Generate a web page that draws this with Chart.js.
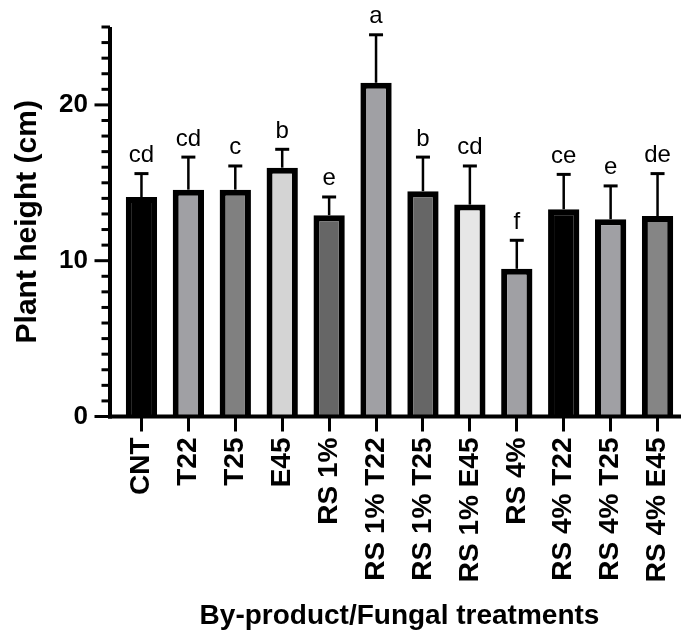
<!DOCTYPE html>
<html>
<head>
<meta charset="utf-8">
<script src="https://cdn.jsdelivr.net/npm/chart.js@4.4.1/dist/chart.umd.min.js"></script>
<style>
  html, body { margin: 0; padding: 0; background: #ffffff; }
  #wrap { width: 681px; height: 635px; position: relative; }
</style>
</head>
<body>
<div id="wrap"><canvas id="c" width="681" height="635"></canvas></div>
<script>
// ---- data ----
const categories = ['CNT', 'T22', 'T25', 'E45', 'RS 1%', 'RS 1% T22', 'RS 1% T25', 'RS 1% E45', 'RS 4%', 'RS 4% T22', 'RS 4% T25', 'RS 4% E45'];
const heights = [14.09, 14.56, 14.56, 15.97, 12.92, 21.42, 14.46, 13.60, 9.48, 13.30, 12.66, 12.87];
const errors = [1.50, 2.09, 1.52, 1.18, 1.17, 3.08, 2.19, 2.48, 1.83, 2.24, 2.14, 2.72];
const letters = ['cd', 'cd', 'c', 'b', 'e', 'a', 'b', 'cd', 'f', 'ce', 'e', 'de'];
const yMin = 0;
const yMax = 25;
const yMajorTicks = [0, 10, 20];

// ---- styles ----
const fills = ['#000000', '#a0a0a4', '#808080', '#d4d4d4', '#666666', '#a0a0a4', '#666666', '#e6e6e6', '#a0a0a4', '#000000', '#a0a0a4', '#858585'];
const FONT = "'Liberation Sans', Arial, Helvetica, sans-serif";

const overlay = {
  id: 'overlay',
  afterDatasetsDraw(chart) {
    const ctx = chart.ctx;
    const ys = chart.scales.y;
    const meta = chart.getDatasetMeta(0);
    ctx.save();
    ctx.strokeStyle = '#000';
    ctx.fillStyle = '#000';
    // error bars + letters
    meta.data.forEach((bar, i) => {
      const x = bar.x;
      const yTop = ys.getPixelForValue(heights[i]);
      const yErr = ys.getPixelForValue(heights[i] + errors[i]);
      ctx.lineWidth = 2.5;
      ctx.beginPath();
      ctx.moveTo(x, yTop);
      ctx.lineTo(x, yErr);
      ctx.stroke();
      ctx.lineWidth = 3;
      ctx.beginPath();
      ctx.moveTo(x - 7, yErr);
      ctx.lineTo(x + 7, yErr);
      ctx.stroke();
      ctx.font = '24px ' + FONT;
      ctx.textAlign = 'center';
      ctx.textBaseline = 'alphabetic';
      ctx.fillText(letters[i], x, yErr - 11.5);
    });
    // axes lines
    const axisX = chart.chartArea.left - 8;
    const y0 = ys.getPixelForValue(yMin);
    const yT = ys.getPixelForValue(yMax);
    ctx.lineWidth = 4;
    ctx.beginPath();
    ctx.moveTo(axisX, yT);
    ctx.lineTo(axisX, y0 + 2);
    ctx.stroke();
    ctx.beginPath();
    ctx.moveTo(axisX - 2, y0);
    ctx.lineTo(chart.chartArea.right, y0);
    ctx.stroke();
    // y ticks (major/minor)
    ctx.lineWidth = 3;
    ys.ticks.forEach(t => {
      const py = ys.getPixelForValue(t.value);
      const major = yMajorTicks.includes(t.value);
      ctx.beginPath();
      ctx.moveTo(axisX - (major ? 15.5 : 8.5), py);
      ctx.lineTo(axisX, py);
      ctx.stroke();
    });
    ctx.restore();
  }
};

new Chart(document.getElementById('c'), {
  type: 'bar',
  data: {
    labels: categories,
    datasets: [{
      data: heights,
      backgroundColor: fills,
      borderColor: '#000000',
      borderWidth: 6,
      categoryPercentage: 1.0,
      barPercentage: 0.667
    }]
  },
  options: {
    responsive: false,
    animation: false,
    devicePixelRatio: 1,
    layout: { padding: { top: 27, left: 0, right: 0, bottom: 0 } },
    plugins: { legend: { display: false }, tooltip: { enabled: false } },
    scales: {
      x: {
        offset: true,
        grid: { display: true, drawOnChartArea: false, drawTicks: true, tickLength: 15, tickWidth: 3, tickColor: '#000', offset: false },
        border: { display: false },
        ticks: {
          autoSkip: false, maxRotation: 90, minRotation: 90, padding: 6,
          color: '#000', font: { family: FONT, size: 28, weight: 'bold' }
        },
        title: {
          display: true, text: 'By-product/Fungal treatments', color: '#000',
          font: { family: FONT, size: 28, weight: 'bold' }, padding: { top: 0, bottom: 2 }
        },
        afterFit(scale) { scale.height = 635 - 416.5; scale.paddingLeft = 0; scale.paddingRight = 0; }
      },
      y: {
        min: yMin, max: yMax,
        grid: { display: false, drawTicks: false },
        border: { display: false },
        ticks: {
          stepSize: 1, autoSkip: false, padding: 30, color: '#000',
          font: { family: FONT, size: 26, weight: 'bold' },
          callback: (v) => (yMajorTicks.includes(v) ? String(v) : '')
        },
        title: {
          display: true, text: 'Plant height (cm)', color: '#000',
          font: { family: FONT, size: 30, weight: 'bold' }, padding: { top: 10, bottom: 0 }
        },
        afterFit(scale) { scale.width = 118; scale.paddingTop = 0; scale.paddingBottom = 0; }
      }
    }
  },
  plugins: [overlay]
});
</script>
</body>
</html>
